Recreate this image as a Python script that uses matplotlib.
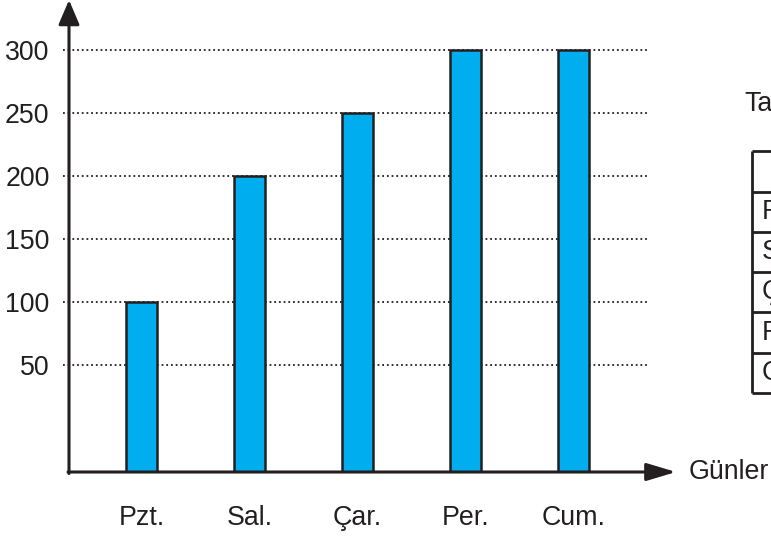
import matplotlib
matplotlib.use("Agg")
import matplotlib.pyplot as plt
import numpy as np

# veriler
gunler = ["Pzt.", "Sal.", "Çar.", "Per.", "Cum."]
degerler = [100, 200, 250, 300, 300]
y_ticks = [50, 100, 150, 200, 250, 300]

W, H = 771, 536
koyu = "#231f20"
mavi = "#00aeef"
fs = 19.3

plt.rcParams["font.family"] = ["Liberation Sans", "DejaVu Sans"]
fig = plt.figure(figsize=(W / 100, H / 100), dpi=100)

# eksen alani (piksel olarak: sol 69, alt 472, sag 675, ust 2)
ax = fig.add_axes([69 / W, (H - 472) / H, (675 - 69) / W, (472 - 2) / H])
y0 = -34.9
ax.set_ylim(y0, 338.1)
ax.set_xlim(-0.671, 4.94)

x = np.arange(len(gunler))
ax.bar(x, np.array(degerler) - y0, bottom=y0, width=0.287,
       color=mavi, edgecolor=koyu, linewidth=1.8, zorder=3)

# noktali yatay cizgiler
ax.hlines(y_ticks, -0.727, 4.69, colors=koyu, linestyles=(0, (1.0, 1.6)),
          linewidth=1.3, clip_on=False, zorder=1)

ax.set_yticks(y_ticks)
ax.set_xticks(x)
ax.set_xticklabels(gunler)
ax.tick_params(axis="both", length=0, labelsize=fs, labelcolor=koyu)
ax.tick_params(axis="y", pad=14)
ax.tick_params(axis="x", pad=24)
for s in ax.spines.values():
    s.set_visible(False)
ax.patch.set_alpha(0)

# oklar, tablo ve yazilar icin piksel koordinatli ust katman
deco = fig.add_axes([0, 0, 1, 1])
deco.set_xlim(0, W)
deco.set_ylim(H, 0)
deco.axis("off")
deco.patch.set_alpha(0)

deco.annotate("", xy=(69, 0), xytext=(69, 473.5),
              arrowprops=dict(arrowstyle="-|>,head_length=0.75,head_width=0.32",
                              color=koyu, lw=2.2, shrinkA=0, shrinkB=0,
                              mutation_scale=20))
deco.annotate("", xy=(676, 472), xytext=(68, 472),
              arrowprops=dict(arrowstyle="-|>,head_length=0.9,head_width=0.27",
                              color=koyu, lw=2.2, shrinkA=0, shrinkB=0,
                              mutation_scale=20))
deco.text(689, 472, "Günler", fontsize=fs, color=koyu, va="center", ha="left")

# sag taraftaki (kesik) tablo
deco.text(744, 104, "Tablo", fontsize=fs, color=koyu, va="center", ha="left")
satirlar = [151, 192, 232, 272, 312, 353, 393]
deco.vlines(752, satirlar[0], satirlar[-1], colors=koyu, linewidth=2)
deco.hlines(satirlar, 752, W + 5, colors=koyu, linewidth=2)
for i, g in enumerate(gunler):
    ym = (satirlar[i + 1] + satirlar[i + 2]) / 2
    deco.text(762, ym, g, fontsize=fs, color=koyu, va="center", ha="left")

fig.savefig("out.png", dpi=100)
